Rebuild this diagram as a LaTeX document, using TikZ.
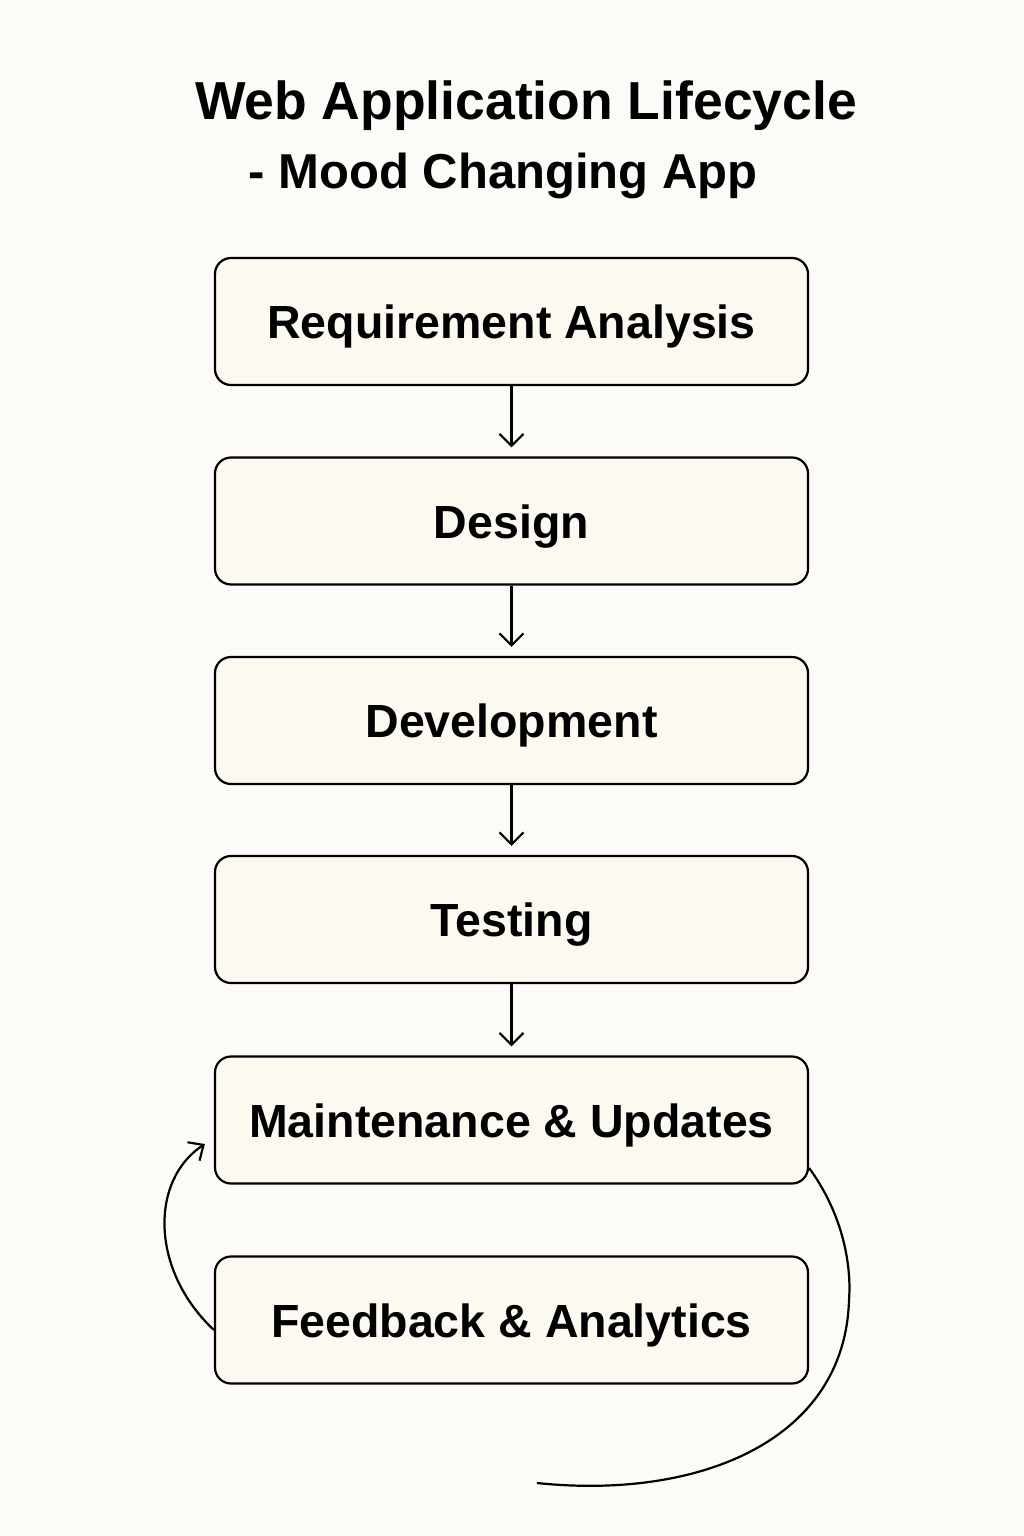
\documentclass[tikz,border=0pt]{standalone}
\usepackage{fontspec}
\setmainfont{Liberation Sans}
\usetikzlibrary{arrows.meta}
\definecolor{bgc}{HTML}{FCFBF7}
\definecolor{boxc}{HTML}{FCF9F0}
\tikzset{
  stagebox/.style={draw=black, fill=boxc, line width=2.2pt, rounded corners=16pt,
    minimum width=593pt, minimum height=127pt, inner sep=0pt,
    text height=34pt, text depth=0pt,
    font=\bfseries\fontsize{46.5}{50}\selectfont},
  flowarr/.style={line width=2.2pt, -{Straight Barb[length=12pt,width=24pt,line width=2.2pt]}, shorten >=9pt},
  loopline/.style={line width=2.2pt},
  titletext/.style={font=\bfseries\fontsize{53.5}{60}\selectfont, anchor=base}
}
\begin{document}
\begin{tikzpicture}[x=1pt,y=-1pt]
\fill[bgc] (0,0) rectangle (1024,1536);
\useasboundingbox (0,0) rectangle (1024,1536);
\node[titletext] (t1) at (526,120) {Web Application Lifecycle};
\node[titletext, font=\bfseries\fontsize{49}{56}\selectfont] (t2) at (503,188) {- Mood Changing App};
\node[stagebox] (req) at (511.5,321.5) {Requirement Analysis};
\node[stagebox] (des) at (511.5,521) {Design};
\node[stagebox] (dev) at (511.5,720.5) {Development};
\node[stagebox] (tst) at (511.5,919.5) {Testing};
\node[stagebox] (mnt) at (511.5,1120) {Maintenance \& Updates};
\node[stagebox] (fb) at (511.5,1320) {Feedback \& Analytics};
\draw[flowarr] (req) -- (des);
\draw[flowarr] (des) -- (dev);
\draw[flowarr] (dev) -- (tst);
\draw[flowarr] (tst) -- (mnt);
\coordinate (loopend) at (537,1483);
\draw[loopline] ([yshift=-48pt]mnt.east) .. controls (840,1210) and (852,1260) .. (849,1300)
  .. controls (845,1440) and (700,1500) .. (loopend);
\draw[loopline, -{Straight Barb[length=12pt,width=22pt,line width=2.2pt]}]
  ([yshift=-10pt]fb.west) .. controls (150,1270) and (150,1180) .. ([shift={(-9pt,-24pt)}]mnt.west);
\end{tikzpicture}
\end{document}
